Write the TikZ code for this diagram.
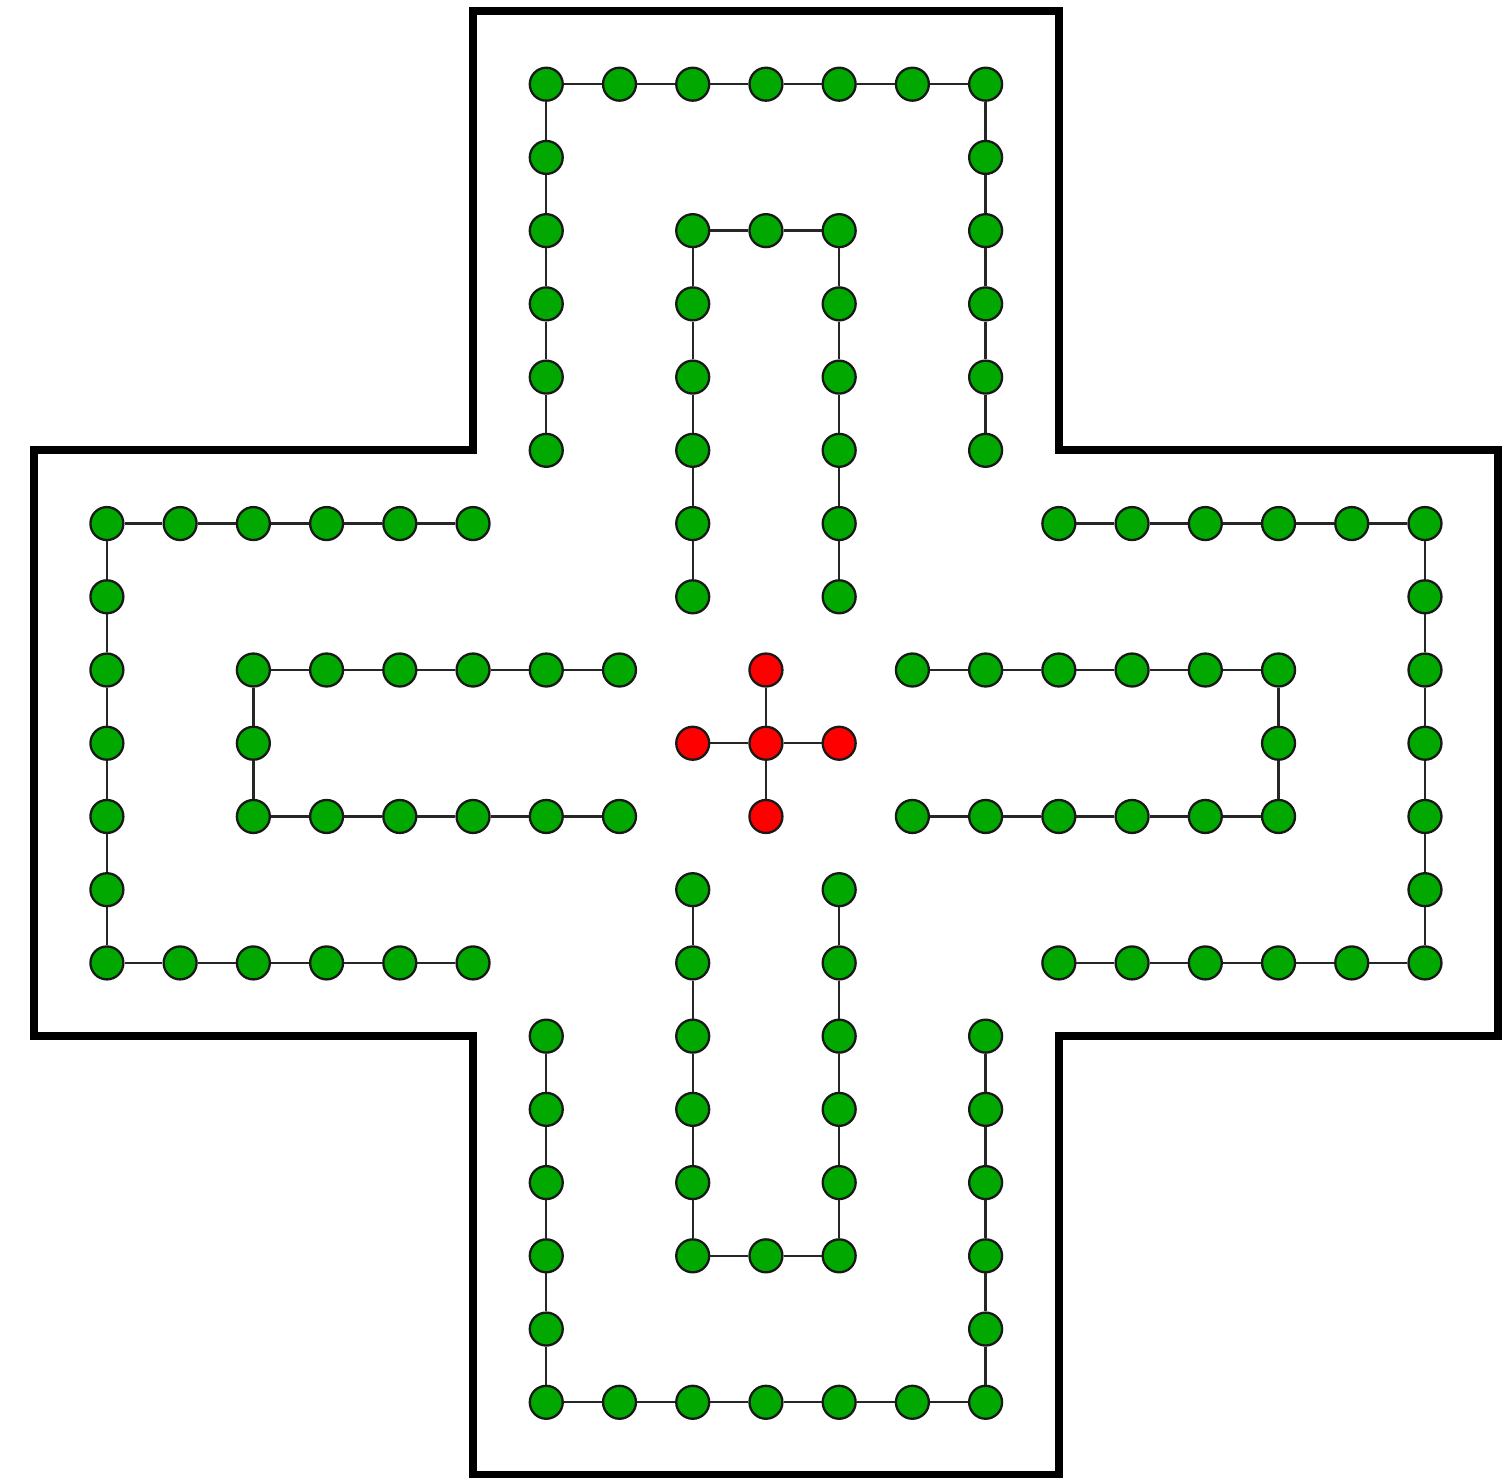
\documentclass[tikz,border=0pt]{standalone}
\usepackage{xcolor}
\usepackage{tikz}
\usetikzlibrary{calc}
\definecolor{dotgreen}{RGB}{0,168,0}
\definecolor{dotred}{RGB}{255,0,0}
\tikzset{
  wall/.style={draw=black, line width=3.2pt, line join=miter},
  gnode/.style={circle, draw=black!90, fill=dotgreen, line width=0.9pt,
                minimum size=0.45cm, inner sep=0pt},
  rnode/.style={gnode, fill=dotred},
  lnk/.style={draw=black!85, line width=0.9pt},
}
\begin{document}
\begin{tikzpicture}
\useasboundingbox (-10.46,-10.03) rectangle (10.12,10.15);

% OUTER WALL (cross)
\draw[wall] (-4,10) -- (4,10) -- (4,4) -- (10,4) -- (10,-4) -- (4,-4) -- (4,-10)
  -- (-4,-10) -- (-4,-4) -- (-10,-4) -- (-10,4) -- (-4,4) -- cycle;

% FOUR ARMS (same track, turned by 90 degrees)
\foreach \r in {0,1,2,3}{
  \begin{scope}[rotate=90*\r]
    % outer track
    \foreach \y [count=\n] in {4,...,9} \node[gnode] (o\r-\n) at (-3,\y) {};
    \foreach \x [count=\n from 7] in {-2,...,3} \node[gnode] (o\r-\n) at (\x,9) {};
    \foreach \y [count=\n from 13] in {8,...,4} \node[gnode] (o\r-\n) at (3,\y) {};
    \foreach \n [count=\m from 2] in {1,...,16} \draw[lnk] (o\r-\n) -- (o\r-\m);
    % inner track
    \foreach \y [count=\n] in {2,...,7} \node[gnode] (i\r-\n) at (-1,\y) {};
    \foreach \x [count=\n from 7] in {0,1} \node[gnode] (i\r-\n) at (\x,7) {};
    \foreach \y [count=\n from 9] in {6,...,2} \node[gnode] (i\r-\n) at (1,\y) {};
    \foreach \n [count=\m from 2] in {1,...,12} \draw[lnk] (i\r-\n) -- (i\r-\m);
  \end{scope}
}

% CENTRE
\node[rnode] (c) at (0,0) {};
\node[rnode] (cn) at (0,1) {};
\node[rnode] (cs) at (0,-1) {};
\node[rnode] (ce) at (1,0) {};
\node[rnode] (cw) at (-1,0) {};
\foreach \t in {cn,cs,ce,cw} \draw[lnk] (c) -- (\t);

\end{tikzpicture}
\end{document}
